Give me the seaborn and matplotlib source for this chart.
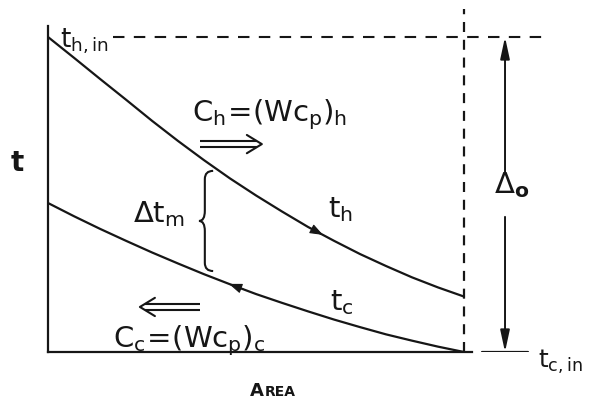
import numpy as np
import pandas as pd
import matplotlib
matplotlib.use("Agg")
import matplotlib.pyplot as plt
from matplotlib.path import Path
from matplotlib.patches import PathPatch
import seaborn as sns

# Counter-flow heat exchanger: temperature of both streams along the area
area = [0.0, 0.0625, 0.125, 0.1875, 0.25, 0.3125, 0.375, 0.4375, 0.5,
        0.5625, 0.625, 0.6875, 0.75, 0.8125, 0.875, 0.9375, 1.0]
t_hot = [1.000, 0.934, 0.867, 0.801, 0.734, 0.670, 0.609, 0.551, 0.497,
         0.446, 0.397, 0.353, 0.311, 0.273, 0.237, 0.205, 0.176]
t_cold = [0.473, 0.431, 0.391, 0.353, 0.316, 0.281, 0.247, 0.215, 0.184,
          0.156, 0.129, 0.103, 0.079, 0.056, 0.036, 0.017, 0.000]
streams = ["hot", "cold"]

sns.set_style("white")
plt.rcParams["font.family"] = ["DejaVu Sans"]
plt.rcParams["mathtext.fontset"] = "custom"
plt.rcParams["mathtext.rm"] = "DejaVu Sans"
plt.rcParams["mathtext.it"] = "DejaVu Sans"
plt.rcParams["mathtext.bf"] = "DejaVu Sans:bold"

INK = "#161616"

df = pd.DataFrame({
    "area": area * 2,
    "t": t_hot + t_cold,
    "stream": [streams[0]] * len(area) + [streams[1]] * len(area),
})

fig = plt.figure(figsize=(5.9, 4.02), dpi=100)
ax = fig.add_axes([48 / 590, 49 / 402, 542 / 590, 353 / 402])

sns.lineplot(data=df, x="area", y="t", hue="stream", palette=[INK, INK],
             legend=False, lw=1.6, sort=False, estimator=None, ax=ax)

ax.set_xlim(0, 542 / 416)
ax.set_ylim(0, 353 / 315)
ax.set_xticks([])
ax.set_yticks([])
ax.set_xlabel("")
ax.set_ylabel("")
for side in ("top", "right"):
    ax.spines[side].set_visible(False)
for side in ("left", "bottom"):
    ax.spines[side].set_color(INK)
    ax.spines[side].set_linewidth(1.6)
ax.spines["left"].set_bounds(0, 1.035)
ax.spines["bottom"].set_bounds(0, 1.019)

t_in = t_hot[0]
a_end = area[-1]

# reference lines at the hot inlet temperature and at the end of the area
ax.plot([0.156, 1.207], [t_in, t_in], color=INK, lw=1.5, ls=(0, (5.5, 4.5)))
ax.plot([a_end, a_end], [0, 1.089], color=INK, lw=1.6, ls=(0, (4.5, 3.5)))

# cold inlet level on the right
ax.plot([1.043, 1.154], [0, 0], color=INK, lw=1.6)

# overall temperature difference arrows
x_d = 1.0986
head = "-|>,head_length=1.3,head_width=0.28"
ax.annotate("", xy=(x_d, t_in), xytext=(x_d, 0.571),
            arrowprops=dict(arrowstyle=head, lw=1.4, color=INK, shrinkA=0, shrinkB=0))
ax.annotate("", xy=(x_d, 0), xytext=(x_d, 0.429),
            arrowprops=dict(arrowstyle=head, lw=1.4, color=INK, shrinkA=0, shrinkB=0))
ax.text(1.072, 0.533, r"$\Delta_{\mathbf{o}}$", fontsize=21, color=INK,
        ha="left", va="center")

# flow direction arrowheads on the curves
small = "-|>,head_length=0.8,head_width=0.3"
tip_h, tail_h = 0.661, 0.63
ax.annotate("", xy=(tip_h, np.interp(tip_h, area, t_hot)),
            xytext=(tail_h, np.interp(tail_h, area, t_hot)),
            arrowprops=dict(arrowstyle=small, lw=0.8, color=INK, shrinkA=0, shrinkB=0))
tip_c, tail_c = 0.435, 0.47
ax.annotate("", xy=(tip_c, np.interp(tip_c, area, t_cold)),
            xytext=(tail_c, np.interp(tail_c, area, t_cold)),
            arrowprops=dict(arrowstyle=small, lw=0.8, color=INK, shrinkA=0, shrinkB=0))


def double_arrow(x_from, x_to, y_mid, gap, head_dx, head_dy):
    """Double-shafted horizontal arrow pointing from x_from to x_to."""
    sign = 1 if x_to > x_from else -1
    for dy in (-gap, gap):
        ax.plot([x_from, x_to - sign * head_dx * 0.35], [y_mid + dy, y_mid + dy],
                color=INK, lw=1.5, solid_capstyle="butt")
    ax.plot([x_to - sign * head_dx, x_to, x_to - sign * head_dx],
            [y_mid + head_dy, y_mid, y_mid - head_dy], color=INK, lw=1.5)


double_arrow(0.365, 0.514, 0.660, 0.0095, 0.036, 0.029)
double_arrow(0.365, 0.221, 0.143, 0.0095, 0.036, 0.029)

# brace marking the mean temperature difference
verts = [(0.397, 0.575), (0.377, 0.575), (0.377, 0.549),
         (0.377, 0.448),
         (0.377, 0.416), (0.363, 0.416),
         (0.377, 0.416), (0.377, 0.384),
         (0.377, 0.283),
         (0.377, 0.257), (0.397, 0.257)]
codes = [Path.MOVETO, Path.CURVE3, Path.CURVE3, Path.LINETO,
         Path.CURVE3, Path.CURVE3, Path.CURVE3, Path.CURVE3,
         Path.LINETO, Path.CURVE3, Path.CURVE3]
ax.add_patch(PathPatch(Path(verts, codes), fill=False, edgecolor=INK, lw=1.5))

fs = 21
ax.text(0.029, 0.971, r"$t_{h,in}$", fontsize=19, color=INK, ha="left", va="baseline")
ax.text(0.346, 0.737, r"$C_h\!=\!(Wc_p)_h$", fontsize=fs, color=INK, ha="left", va="baseline")
ax.text(0.673, 0.432, r"$t_h$", fontsize=fs, color=INK, ha="left", va="baseline")
ax.text(0.204, 0.416, r"$\Delta t_m$", fontsize=fs, color=INK, ha="left", va="baseline")
ax.text(0.678, 0.137, r"$t_c$", fontsize=fs, color=INK, ha="left", va="baseline")
ax.text(0.156, 0.019, r"$C_c\!=\!(Wc_p)_c$", fontsize=fs, color=INK, ha="left", va="baseline")
ax.text(1.178, -0.048, r"$t_{c,in}$", fontsize=18, color=INK, ha="left", va="baseline")
ax.text(-0.0745, 0.603, "t", fontsize=20, fontweight="bold", color=INK,
        ha="center", va="center")
ax.text(0.486, -0.137, "A", fontsize=13, fontweight="bold", color=INK,
        ha="left", va="baseline")
ax.text(0.522, -0.137, "REA", fontsize=10, fontweight="bold", color=INK,
        ha="left", va="baseline")

fig.savefig("out.png", dpi=100, facecolor="white")
